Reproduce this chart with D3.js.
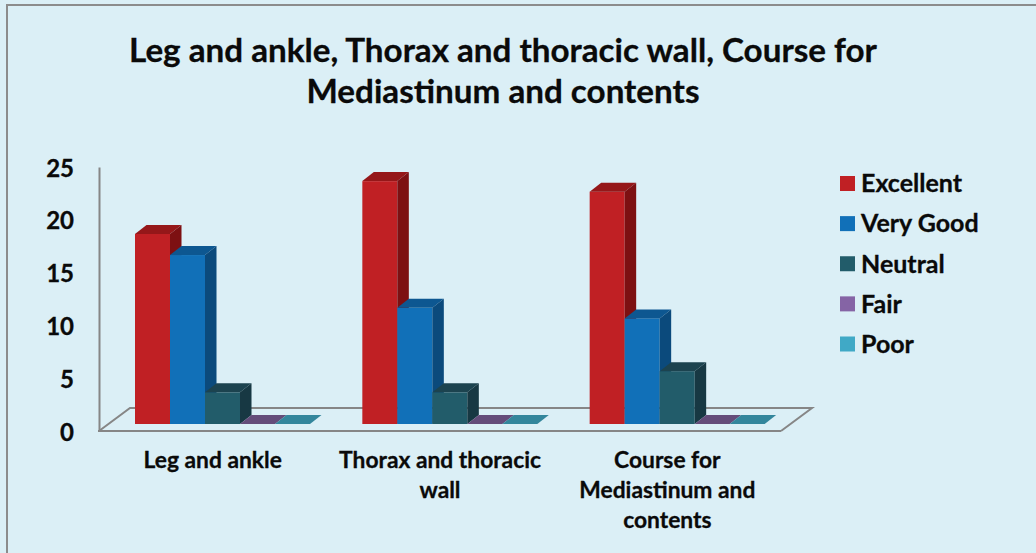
<!DOCTYPE html>
<html>
  <head>
    <title>Leg and ankle, Thorax and thoracic wall, Course for Mediastinum and contents</title>
    <script src="https://d3js.org/d3.v7.min.js"></script>
    <style>
      html, body { margin: 0; padding: 0; background: #dbeff6; overflow: hidden; }
      text { font-family: Lato, "Open Sans", sans-serif; font-weight: 700; fill: #0a0a0a; stroke: #0a0a0a; stroke-width: 0.3px; }
      .axis path { stroke: #868686; stroke-width: 2; fill: none; }
      .title { font-size: 33.2px; }
      .legend text { font-size: 25px; }
      .ticks text { font-size: 24px; }
      .cats text { font-size: 22.8px; }
    </style>
  </head>
  <body>
    <svg width="1036" height="553"></svg>

    <script>
      // values
      const categories = ["Leg and ankle", "Thorax and thoracic wall", "Course for Mediastinum and contents"];
      const categoryLines = [["Leg and ankle"], ["Thorax and thoracic", "wall"], ["Course for", "Mediastinum and", "contents"]];
      const seriesNames = ["Excellent", "Very Good", "Neutral", "Fair", "Poor"];
      const excellent = [18, 23, 22];
      const veryGood = [16, 11, 10];
      const neutral = [3, 3, 5];
      const fair = [0, 0, 0];
      const poor = [0, 0, 0];
      const yTicks = [0, 5, 10, 15, 20, 25];
      const titleLines = ["Leg and ankle, Thorax and thoracic wall, Course for", "Mediastinum and contents"];

      const seriesValues = [excellent, veryGood, neutral, fair, poor];
      const frontColors = ["#c02024", "#1170b8", "#225c6a", "#8564a5", "#40a9c6"];
      const topColors = ["#951719", "#0d5791", "#1c434f", "#644c7a", "#33869c"];
      const sideColors = ["#7d1012", "#0b4a7c", "#173843", "#54406a", "#2b7286"];

      const svg = d3.select("svg");

      // chart frame, only top and left are visible in the picture
      svg.append("path")
        .attr("d", "M7,553V5H1036")
        .attr("fill", "none")
        .attr("stroke", "#8c8c8c")
        .attr("stroke-width", 2);

      // title
      svg.append("g").selectAll("text")
        .data(titleLines)
        .enter().append("text")
        .attr("class", "title")
        .attr("x", 503)
        .attr("y", (d, i) => 62 + i * 41)
        .attr("text-anchor", "middle")
        .text(d => d);

      // scales, depth is the slant of the 3d bars and floor
      const depthX = 11.5, depthY = 9;
      const floorDepthX = 31, floorDepthY = 23;
      const x0 = d3.scaleBand().domain(categories).range([99, 781]);
      const x1 = d3.scaleBand().domain(seriesNames).range([36, 211]);
      const y = d3.scaleLinear().domain([0, 25]).range([424, 160]);
      const yAxisScale = d3.scaleLinear().domain([0, 25]).range([431, 167]);

      // floor of the 3d plot
      svg.append("path")
        .attr("d", d3.line()([[99, 431], [99 + floorDepthX, 431 - floorDepthY], [781 + floorDepthX, 431 - floorDepthY], [781, 431]]))
        .attr("fill", "none")
        .attr("stroke", "#868686")
        .attr("stroke-width", 2);

      // y axis, labels only
      const yAxis = svg.append("g")
        .attr("class", "axis ticks")
        .attr("transform", "translate(99,0)")
        .call(d3.axisLeft(yAxisScale).tickValues(yTicks).tickSize(0).tickPadding(25).tickSizeOuter(0));

      yAxis.selectAll("text").attr("dy", "0.38em");

      // x axis
      svg.append("line")
        .attr("x1", 98).attr("x2", 781)
        .attr("y1", 431).attr("y2", 431)
        .attr("stroke", "#868686")
        .attr("stroke-width", 2);

      const xAxis = svg.append("g")
        .attr("class", "cats")
        .selectAll("g")
        .data(categories)
        .enter().append("g")
        .attr("transform", d => "translate(" + (x0(d) + x0.bandwidth() / 2) + ",0)");

      xAxis.selectAll("text")
        .data((d, i) => categoryLines[i])
        .enter().append("text")
        .attr("y", (d, i) => 468 + i * 30)
        .attr("text-anchor", "middle")
        .text(d => d);

      // bars, drawn left to right so each front covers the side of the previous one
      const bars = [];
      categories.forEach((c, ci) => {
        seriesNames.forEach((s, si) => {
          bars.push({ category: c, series: s, si: si, value: seriesValues[si][ci] });
        });
      });

      const bar = svg.append("g").selectAll("g")
        .data(bars)
        .enter().append("g");

      const bw = x1.bandwidth();

      bar.append("rect")
        .attr("x", d => x0(d.category) + x1(d.series))
        .attr("y", d => y(d.value))
        .attr("width", bw)
        .attr("height", d => y(0) - y(d.value))
        .attr("fill", d => frontColors[d.si]);

      bar.append("path")
        .attr("fill", d => topColors[d.si])
        .attr("d", d => {
          const l = x0(d.category) + x1(d.series), t = y(d.value);
          return d3.line()([[l, t], [l + depthX, t - depthY], [l + bw + depthX, t - depthY], [l + bw, t]]) + "Z";
        });

      bar.append("path")
        .attr("fill", d => sideColors[d.si])
        .attr("d", d => {
          const r = x0(d.category) + x1(d.series) + bw, t = y(d.value);
          return d3.line()([[r, t], [r + depthX, t - depthY], [r + depthX, y(0) - depthY], [r, y(0)]]) + "Z";
        });

      // legend
      const legendY = d3.scalePoint().domain(seriesNames).range([183.5, 344]);
      const legend = svg.append("g")
        .attr("class", "legend")
        .selectAll("g")
        .data(seriesNames)
        .enter().append("g")
        .attr("transform", d => "translate(840," + legendY(d) + ")");

      legend.append("rect")
        .attr("y", -7.5)
        .attr("width", 15)
        .attr("height", 15)
        .attr("fill", (d, i) => frontColors[i]);

      legend.append("text")
        .attr("x", 21)
        .attr("dy", "0.35em")
        .text(d => d);
    </script>
  </body>
</html>
